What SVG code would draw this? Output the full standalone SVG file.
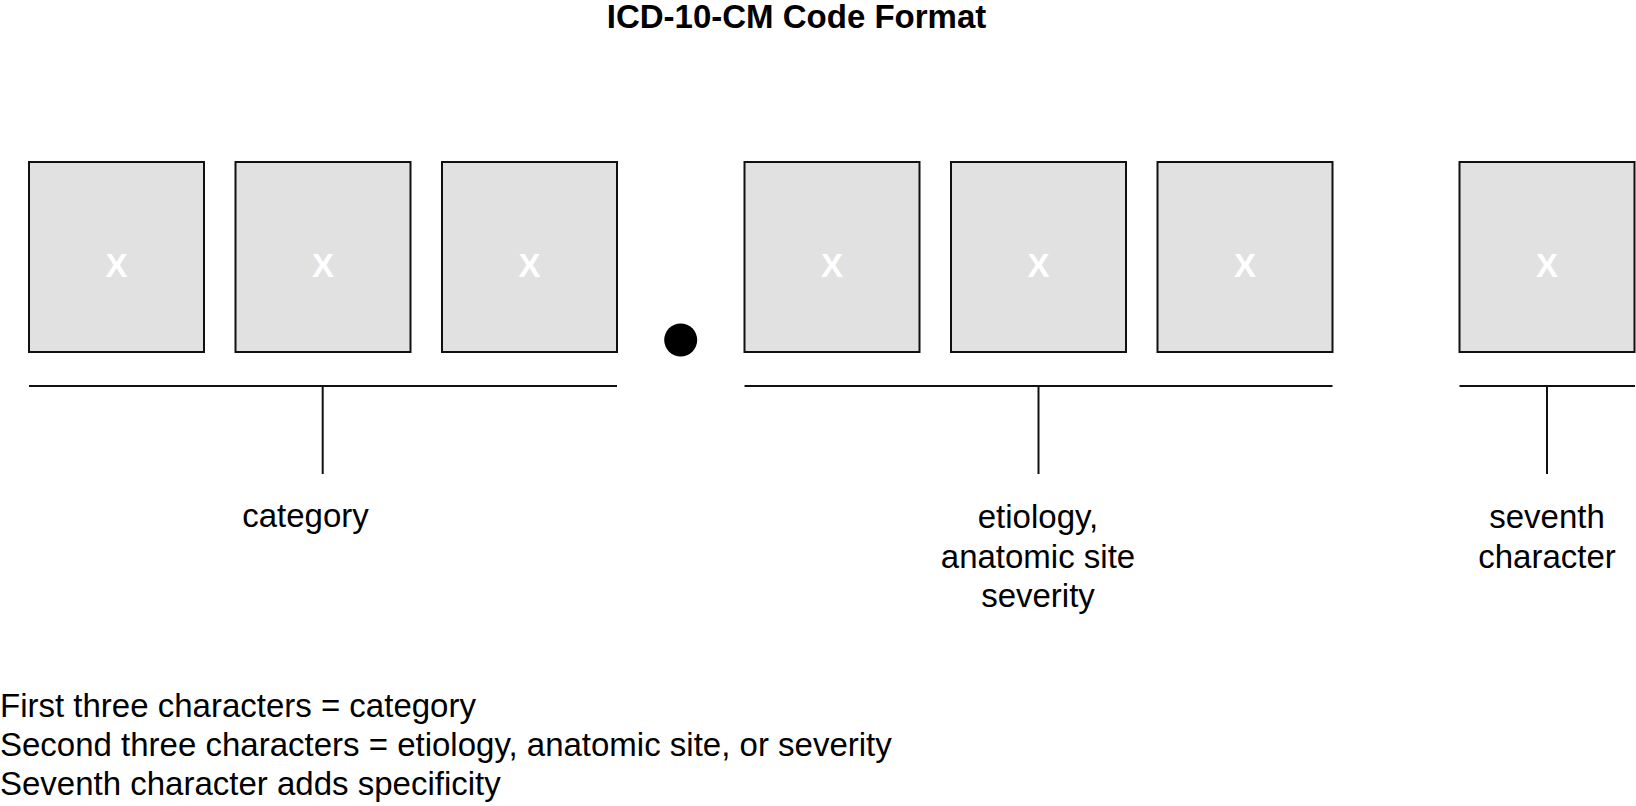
<svg xmlns="http://www.w3.org/2000/svg" width="1636" height="806" viewBox="0 0 1636 806">
<style>
.box{fill:#e1e1e1;stroke:#111;stroke-width:2}
.x{font-family:"Liberation Sans",Arial,sans-serif;font-weight:bold;font-size:33px;fill:#fff;text-anchor:middle}
.lbl{font-family:"Liberation Sans",Arial,sans-serif;font-size:33px;fill:#000;text-anchor:middle}
.note{font-family:"Liberation Sans",Arial,sans-serif;font-size:33px;fill:#000}
.ln{stroke:#111;stroke-width:2;fill:none}
</style>
<rect width="1636" height="806" fill="#fff"/>
<text x="796.5" y="28" font-family="Liberation Sans, Arial, sans-serif" font-weight="bold" font-size="33" text-anchor="middle">ICD-10-CM Code Format</text>
<g id="char1"><rect class="box" x="29" y="162" width="175" height="190"/><text class="x" x="116.5" y="277">X</text></g>
<g id="char2"><rect class="box" x="235.5" y="162" width="175" height="190"/><text class="x" x="323" y="277">X</text></g>
<g id="char3"><rect class="box" x="442" y="162" width="175" height="190"/><text class="x" x="529.5" y="277">X</text></g>
<g id="dot"><circle cx="680.7" cy="340" r="16.5" fill="#000"/></g>
<g id="char4"><rect class="box" x="744.5" y="162" width="175" height="190"/><text class="x" x="832" y="277">X</text></g>
<g id="char5"><rect class="box" x="951" y="162" width="175" height="190"/><text class="x" x="1038.5" y="277">X</text></g>
<g id="char6"><rect class="box" x="1157.5" y="162" width="175" height="190"/><text class="x" x="1245" y="277">X</text></g>
<g id="char7"><rect class="box" x="1459.5" y="162" width="175" height="190"/><text class="x" x="1547" y="277">X</text></g>
<g id="connectors">
<path class="ln" d="M29 386H617M322.7 386V474"/>
<path class="ln" d="M744.5 386H1332.5M1038.5 386V474"/>
<path class="ln" d="M1459.5 386H1635M1547 386V474"/>
</g>
<g id="label-category"><text class="lbl" x="305.5" y="527">category</text></g>
<g id="label-etiology"><text class="lbl" x="1038" y="528">etiology,</text><text class="lbl" x="1038" y="567.5">anatomic site</text><text class="lbl" x="1038" y="607">severity</text></g>
<g id="label-seventh"><text class="lbl" x="1547" y="528">seventh</text><text class="lbl" x="1547" y="567.5">character</text></g>
<g id="notes">
<text class="note" x="0" y="717">First three characters = category</text>
<text class="note" x="0" y="756">Second three characters = etiology, anatomic site, or severity</text>
<text class="note" x="0" y="795">Seventh character adds specificity</text>
</g>
</svg>
